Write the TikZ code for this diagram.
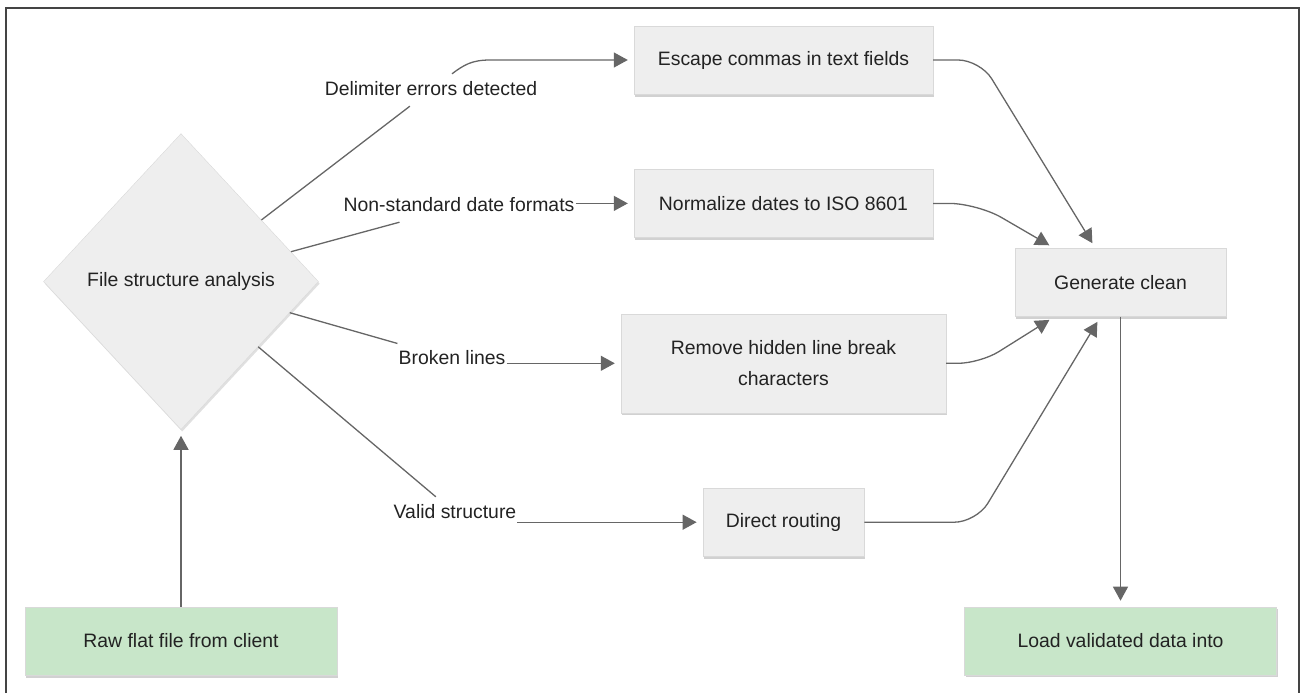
\documentclass[tikz,border=0pt]{standalone}
\usepackage{fontspec}
\setmainfont{Liberation Sans}
\usetikzlibrary{positioning,arrows.meta,shapes.geometric,shadows}
\definecolor{boxgray}{HTML}{EEEEEE}
\definecolor{boxline}{HTML}{D9D9D9}
\definecolor{okgreen}{HTML}{C8E6C9}
\definecolor{linkgray}{HTML}{666666}
\definecolor{ink}{HTML}{222222}
\definecolor{framegray}{HTML}{444444}

\begin{document}
\begin{tikzpicture}[x=1pt, y=-1pt,
  txt/.style={font=\fontsize{19.4}{31}\selectfont, text=ink},
  proc/.style={txt, draw=boxline, fill=boxgray, align=center, minimum height=68pt, inner xsep=23pt,
    drop shadow={shadow xshift=1.2pt, shadow yshift=-2.5pt, fill=black, opacity=.18}},
  terminal/.style={proc, fill=okgreen, minimum width=312pt},
  decision/.style={txt, diamond, draw=boxline, fill=boxgray, minimum width=275pt, minimum height=296pt, inner sep=0pt,
    drop shadow={shadow xshift=1.2pt, shadow yshift=-2pt, fill=black, opacity=.12}},
  lab/.style={txt, inner xsep=1pt, inner ysep=7pt, text height=14pt, text depth=4pt},
  link/.style={draw=linkgray, line width=1.3pt},
  arr/.style={link, -{Triangle[length=14pt, width=15pt]}, shorten >=6pt},
  frame/.style={draw=framegray, line width=1.3pt}
]
\useasboundingbox (0,0) rectangle (1303,693);
\draw[frame] (6,693) -- (6,8) -- (1299,8) -- (1299,693);

% incoming file and the check
\node[terminal] (raw) at (181,641) {Raw flat file from client};
\node[decision, above=177pt of raw] (fsa) {File structure analysis};

% the four repairs
\node[proc, minimum width=299pt] (esc) at (783.5,60) {Escape commas in text fields};
\node[proc, minimum width=299pt, below=75pt of esc] (norm) {Normalize dates to ISO 8601};
\node[proc, minimum width=325pt, minimum height=99pt, below=76pt of norm] (rem) {Remove hidden line break\\characters};
\node[proc, below=75pt of rem] (dir) {Direct routing};

% output side
\node[proc, minimum width=211pt] (gen) at (1120.5,282.5) {Generate clean};
\node[terminal, below=290pt of gen] (load) {Load validated data into};

% branch labels
\node[lab] (l1) at (431,90) {Delimiter errors detected};
\node[lab] (l2) at (459,206) {Non-standard date formats};
\node[lab] (l3) at (452,359) {Broken lines};
\node[lab] (l4) at (455,513) {Valid structure};

\draw[arr] (raw) -- (fsa);
\foreach \l in {l1,l2,l3,l4}
  \draw[link] (fsa) -- (\l);
\draw[arr] ([xshift=21pt]l1.north) .. controls +(12,-9) and +(-18,0) .. (490,60) -- (esc.west);
\draw[arr] (l2.east |- norm.west) -- (norm.west);
\draw[arr] (l3.east |- rem.west) -- (rem.west);
\draw[arr] (l4.east |- dir.west) -- (dir.west);

% into the clean file
\draw[arr, rounded corners=22pt] (esc.east) -- ++(47,0) -- ([xshift=-25pt]gen.north);
\draw[arr, rounded corners=28pt] (norm.east) -- ++(44,0) -- ([xshift=-66pt]gen.north);
\draw[arr, rounded corners=22pt] (rem.east) -- ++(34,0) -- ([xshift=-66pt]gen.south);
\draw[arr, rounded corners=22pt] (dir.east) -- ++(112,0) -- ([xshift=-20pt]gen.south);
\draw[arr] (gen) -- (load);
\end{tikzpicture}
\end{document}
